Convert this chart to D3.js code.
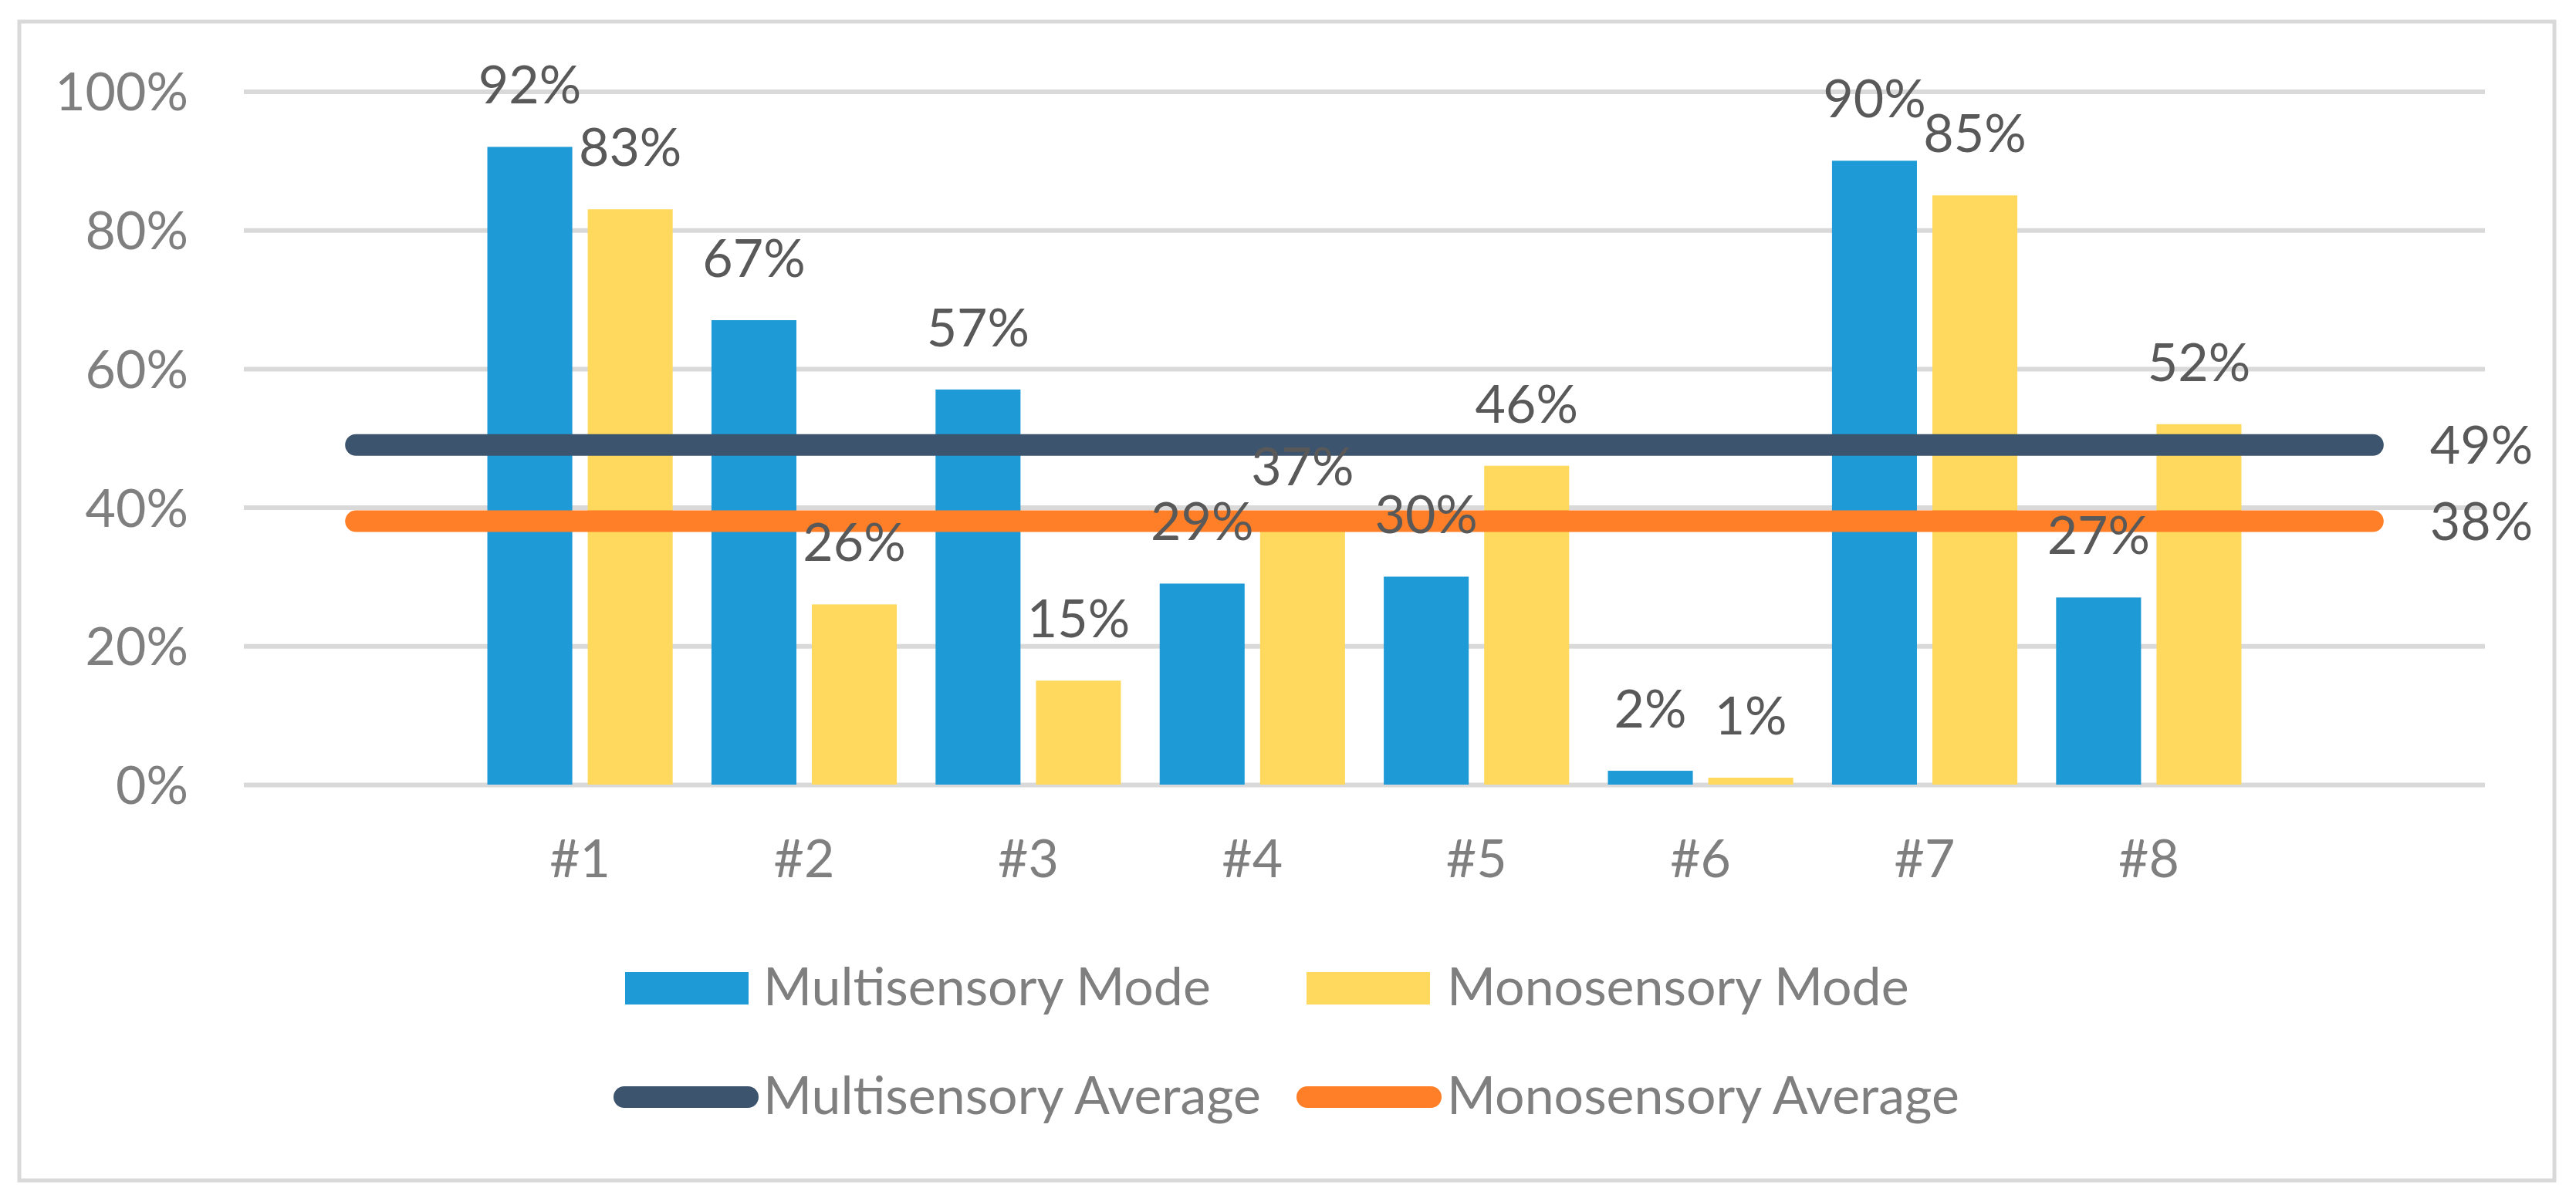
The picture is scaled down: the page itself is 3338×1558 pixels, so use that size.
<!DOCTYPE html>
<html>
<head>
<meta charset="utf-8">
<script src="https://cdn.jsdelivr.net/npm/d3@7"></script>
<style>
  html, body { margin: 0; padding: 0; background: #ffffff; }
  svg { display: block; }
  text { font-family: Lato, "Open Sans", sans-serif; }
</style>
</head>
<body>
<svg id="chart" width="3338" height="1558"></svg>
<script>
// ---- data ----
const categories = ["#1", "#2", "#3", "#4", "#5", "#6", "#7", "#8"];
const multisensoryMode = [0.92, 0.67, 0.57, 0.29, 0.30, 0.02, 0.90, 0.27];
const monosensoryMode  = [0.83, 0.26, 0.15, 0.37, 0.46, 0.01, 0.85, 0.52];
const multisensoryAverage = 0.49;
const monosensoryAverage  = 0.38;
const yTicks = [0, 0.2, 0.4, 0.6, 0.8, 1.0];
const legendLabels = ["Multisensory Mode", "Monosensory Mode", "Multisensory Average", "Monosensory Average"];

// ---- styles ----
const C = {
  blue: "#1e9bd7", yellow: "#fed95d", navy: "#3d546e", orange: "#fe7f27",
  grid: "#d9d9d9", axisText: "#7f7f7f", labelText: "#595959"
};
const FS = 68;

const svg = d3.select("#chart");

// outer border
svg.append("rect")
  .attr("x", 25).attr("y", 28).attr("width", 3285).attr("height", 1502)
  .attr("fill", "#fff").attr("stroke", C.grid).attr("stroke-width", 5);

const plot = { left: 316, right: 3220, top: 118.5, bottom: 1017 };

// x: two empty slots at the ends (average lines span them)
const slots = ["_start", ...categories, "_end"];
const x = d3.scaleBand().domain(slots).range([plot.left, plot.right]).paddingInner(0).paddingOuter(0);
const y = d3.scaleLinear().domain([0, 1]).range([plot.bottom, plot.top]);
const bw = x.bandwidth();
const barW = bw * 0.379;      // ~110px
const barGap = bw * 0.0345;   // ~10px from centre

// y axis + gridlines
const yAxis = d3.axisLeft(y).tickValues(yTicks).tickFormat(d3.format(".0%"))
  .tickSizeInner(-(plot.right - plot.left)).tickSizeOuter(0).tickPadding(72);
const gy = svg.append("g").attr("transform", `translate(${plot.left},0)`).call(yAxis);
gy.select(".domain").remove();
gy.selectAll(".tick line").attr("stroke", C.grid).attr("stroke-width", 6);
gy.selectAll(".tick text").attr("fill", C.axisText).attr("font-size", FS)
  .attr("font-family", "Lato, sans-serif").attr("dy", "0.36em");

// x axis
const xAxis = d3.axisBottom(x).tickValues(categories).tickSize(0).tickPadding(72);
const gx = svg.append("g").attr("transform", `translate(0,${plot.bottom})`).call(xAxis);
gx.select(".domain").remove();
gx.selectAll(".tick text").attr("fill", C.axisText).attr("font-size", FS)
  .attr("font-family", "Lato, sans-serif");

// bars
const rows = categories.map((c, i) => ({ c, multi: multisensoryMode[i], mono: monosensoryMode[i] }));
const cx = c => x(c) + bw / 2;

const gBars = svg.append("g");
gBars.selectAll(".bar-multi").data(rows).join("rect")
  .attr("class", "bar-multi")
  .attr("x", d => cx(d.c) - barGap - barW).attr("width", barW)
  .attr("y", d => y(d.multi)).attr("height", d => y(0) - y(d.multi))
  .attr("fill", C.blue);
gBars.selectAll(".bar-mono").data(rows).join("rect")
  .attr("class", "bar-mono")
  .attr("x", d => cx(d.c) + barGap).attr("width", barW)
  .attr("y", d => y(d.mono)).attr("height", d => y(0) - y(d.mono))
  .attr("fill", C.yellow);

// average lines (span every slot)
const line = d3.line().x(d => x(d.s) + bw / 2).y(d => y(d.v));
const avgSeries = [
  { name: "multi", v: multisensoryAverage, color: C.navy },
  { name: "mono", v: monosensoryAverage, color: C.orange }
];
svg.append("g").selectAll("path").data(avgSeries).join("path")
  .attr("d", s => line(slots.map(sl => ({ s: sl, v: s.v }))))
  .attr("fill", "none").attr("stroke", s => s.color)
  .attr("stroke-width", 28).attr("stroke-linecap", "round");

// bar labels
const fmt = d3.format(".0%");
const gLab = svg.append("g").attr("fill", C.labelText).attr("font-size", FS).attr("text-anchor", "middle");
gLab.selectAll(".lab-multi").data(rows).join("text")
  .attr("x", d => cx(d.c) - barGap - barW / 2).attr("y", d => y(d.multi) - 56)
  .text(d => fmt(d.multi));
gLab.selectAll(".lab-mono").data(rows).join("text")
  .attr("x", d => cx(d.c) + barGap + barW / 2).attr("y", d => y(d.mono) - 56)
  .text(d => fmt(d.mono));

// average labels (at the last point, to the right)
svg.append("g").attr("fill", C.labelText).attr("font-size", FS)
  .selectAll("text").data(avgSeries).join("text")
  .attr("x", x("_end") + bw / 2 + 74).attr("y", s => y(s.v) + 24)
  .text(s => fmt(s.v));

// legend
const legendItems = [
  { label: legendLabels[0], type: "rect", color: C.blue,   kx: 810,  tx: 989,  cy: 1281 },
  { label: legendLabels[1], type: "rect", color: C.yellow, kx: 1693, tx: 1875, cy: 1281 },
  { label: legendLabels[2], type: "line", color: C.navy,   kx: 795,  tx: 989,  cy: 1422 },
  { label: legendLabels[3], type: "line", color: C.orange, kx: 1680, tx: 1875, cy: 1422 }
];
const gLeg = svg.append("g");
legendItems.forEach(it => {
  if (it.type === "rect") {
    gLeg.append("rect").attr("x", it.kx).attr("y", it.cy - 21).attr("width", 160).attr("height", 42).attr("fill", it.color);
  } else {
    gLeg.append("line").attr("x1", it.kx + 14).attr("x2", it.kx + 174).attr("y1", it.cy).attr("y2", it.cy)
      .attr("stroke", it.color).attr("stroke-width", 28).attr("stroke-linecap", "round");
  }
  gLeg.append("text").attr("x", it.tx).attr("y", it.cy + 22)
    .attr("fill", C.axisText).attr("font-size", FS).text(it.label);
});
</script>
</body>
</html>
